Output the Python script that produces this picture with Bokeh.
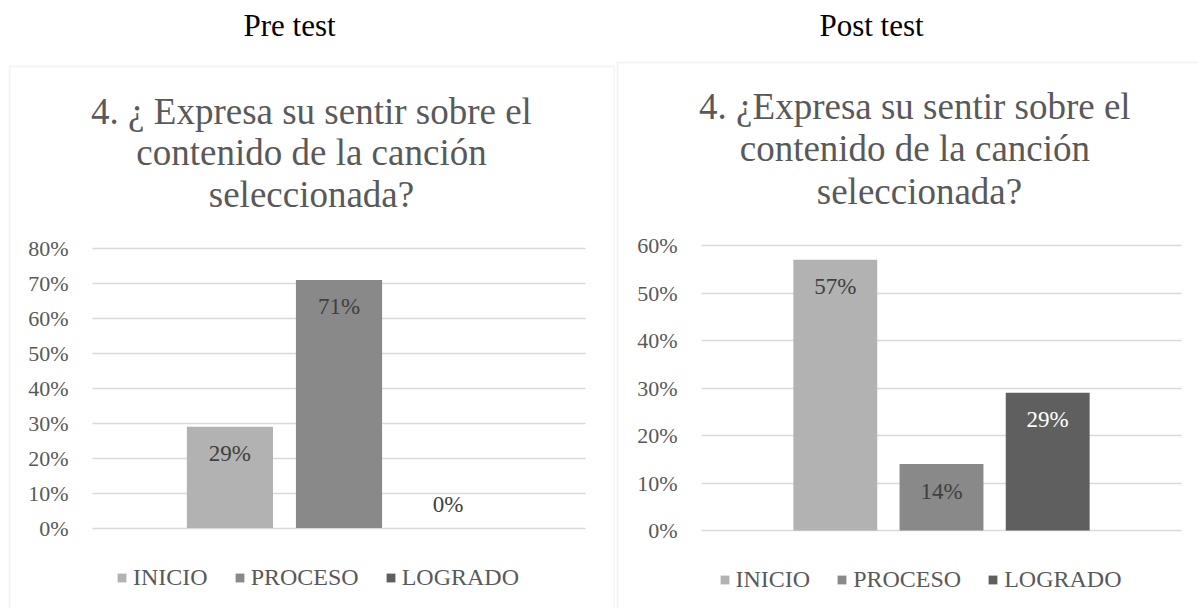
from bokeh.plotting import figure
from bokeh.models import (ColumnDataSource, Range1d, FixedTicker, PrintfTickFormatter,
                          Label, PolyAnnotation, Legend, LegendItem)
from bokeh.layouts import row
from bokeh.embed import file_html
from bokeh.resources import INLINE
from bokeh.core.properties import value

# ---------------- data ----------------
series = ["INICIO", "PROCESO", "LOGRADO"]
series_colors = ["#b2b2b2", "#898989", "#5f5f5f"]
pre_values = [29, 71, 0]
post_values = [57, 14, 29]
pre_label_colors = ["#404040", "#404040", "#404040"]
post_label_colors = ["#404040", "#404040", "#ffffff"]
pre_ticks = [0, 10, 20, 30, 40, 50, 60, 70, 80]
post_ticks = [0, 10, 20, 30, 40, 50, 60]
pre_header = "Pre test"
post_header = "Post test"
pre_title = ["4. \u00bf Expresa su sentir sobre el", "contenido de la canci\u00f3n", "seleccionada?"]
post_title = ["4. \u00bfExpresa su sentir sobre  el", "contenido de la  canci\u00f3n", "seleccionada?"]

FONT = "Liberation Serif"
GRID = "#d9d9d9"
TXT = "#595959"
H = 608
X0, X1 = -1.26, 3.26   # category-axis extent of the plot area
LABEL_SHIFT = 11       # empirical correction for label baseline placement


def make_panel(header, title_lines, values, label_colors, ticks, g):
    W = g["W"]
    L, R, T, B = g["plot"]
    ymax = ticks[-1]
    ux = (X1 - X0) / (R - L)
    uy = ymax / (B - T)

    def dx(fx):
        return X0 + (fx - L) * ux

    def dy(fy):
        return ymax - (fy - T) * uy

    p = figure(width=W, height=H, output_backend="svg", toolbar_location=None,
               x_range=Range1d(dx(0), dx(W)), y_range=Range1d(dy(H), dy(0)),
               x_axis_location=None, min_border=0, min_border_left=0,
               min_border_right=0, min_border_top=0, min_border_bottom=0)
    p.outline_line_color = None
    p.background_fill_color = "white"
    p.border_fill_color = "white"
    p.xgrid.visible = False

    ax = p.yaxis[0]
    ax.fixed_location = X0
    ax.ticker = FixedTicker(ticks=ticks)
    ax.formatter = PrintfTickFormatter(format="%d%%")
    ax.axis_line_color = None
    ax.major_tick_line_color = None
    ax.minor_tick_line_color = None
    ax.major_tick_out = 0
    ax.major_tick_in = 0
    ax.major_label_standoff = 24
    ax.major_label_text_font = FONT
    ax.major_label_text_font_size = "22px"
    ax.major_label_text_color = TXT

    grid = p.ygrid[0]
    grid.ticker = FixedTicker(ticks=ticks)
    grid.grid_line_color = GRID
    grid.grid_line_width = 1.5
    if "cross_bounds" in grid.properties():
        grid.bounds = (0, ymax)
        grid.cross_bounds = (X0, X1)
    else:
        grid.visible = False
        p.segment(x0=[X0] * len(ticks), x1=[X1] * len(ticks), y0=ticks, y1=ticks,
                  line_color=GRID, line_width=1.5, level="underlay")

    # panel border
    bx0, by0, bx1 = g["border"]
    p.add_layout(PolyAnnotation(xs=[dx(bx0), dx(bx1), dx(bx1), dx(bx0)],
                                ys=[dy(by0), dy(by0), dy(H + 40), dy(H + 40)],
                                fill_color=None, line_color=GRID, line_width=2,
                                level="underlay"))

    src = ColumnDataSource(dict(
        x=list(range(len(series))), top=values, color=series_colors,
        label=[f"{v}%" for v in values], lcolor=label_colors,
        yoff=[27 if v > 0 else -24 for v in values]))
    r = p.vbar(x="x", top="top", bottom=0, width=0.79, fill_color="color",
               line_color=None, source=src)
    p.text(x="x", y="top", text="label", y_offset="yoff", text_align="center",
           text_baseline="middle", text_color="lcolor", text_font=value(FONT),
           text_font_size="23px", source=src)

    # header and title
    hx, hy = g["header"]
    p.add_layout(Label(x=dx(hx), y=dy(hy - LABEL_SHIFT), text=header, text_align="center",
                       text_baseline="alphabetic", text_font=FONT,
                       text_font_size="31px", text_color="#000000"))
    tx = g["title_x"]
    for line, ty in zip(title_lines, g["title_y"]):
        p.add_layout(Label(x=dx(tx), y=dy(ty - LABEL_SHIFT), text=line, text_align="center",
                           text_baseline="alphabetic", text_font=FONT,
                           text_font_size="37px", text_color=TXT))

    items = [LegendItem(label=s, renderers=[r], index=i) for i, s in enumerate(series)]
    lx, lcy = g["legend"]
    lg = Legend(items=items, orientation="horizontal", location=(lx, H - lcy - 14),
                border_line_color=None, background_fill_alpha=0,
                label_text_font=FONT, label_text_font_size="24px",
                label_text_color=TXT, glyph_width=11, glyph_height=11,
                label_standoff=6, spacing=26, padding=0, margin=0)
    p.add_layout(lg)
    return p


left_geom = dict(W=615, plot=(92, 585, 248, 527.5),
                 border=(9, 66, 614), header=(289, 35.7),
                 title_x=311, title_y=[121.7, 163, 205],
                 legend=(116, 577))
right_geom = dict(W=583, plot=(86, 566, 245, 530),
                  border=(2, 62, 700), header=(256, 36),
                  title_x=304, title_y=[116.7, 158.5, 201.5],
                  legend=(103.5, 579.3))

p1 = make_panel(pre_header, pre_title, pre_values, pre_label_colors, pre_ticks, left_geom)
p2 = make_panel(post_header, post_title, post_values, post_label_colors, post_ticks, right_geom)

layout = row(p1, p2, spacing=0)
open("out.html", "w").write(file_html(layout, INLINE))
